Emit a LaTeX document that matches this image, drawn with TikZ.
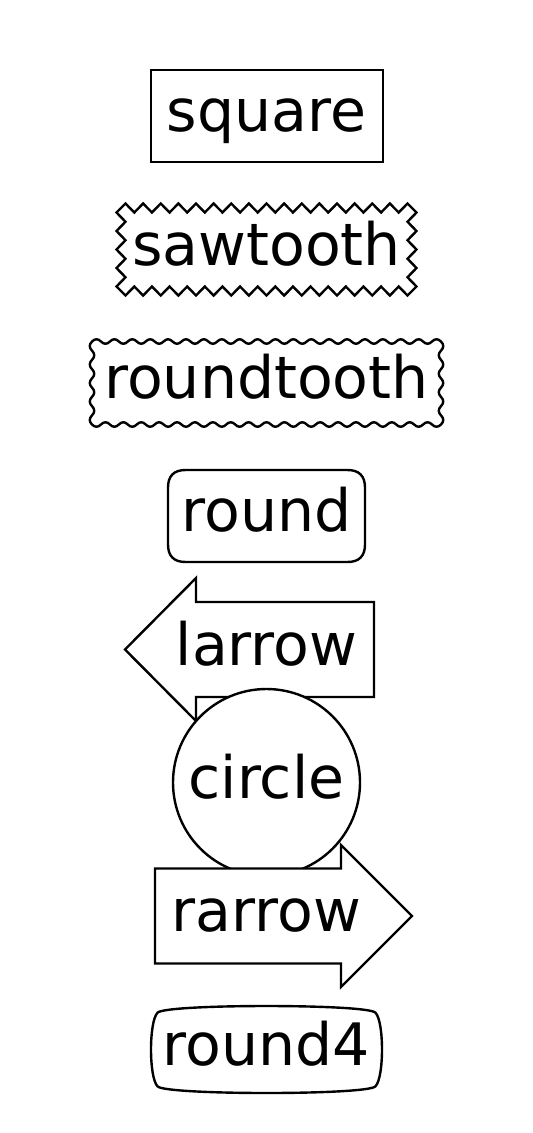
\documentclass[tikz,border=0pt]{standalone}
\usepackage{fontspec}
\setmainfont{DejaVu Sans}
\def\hh{4.5}
\tikzset{
  box/.style={draw=black, line width=2.4pt, fill=white, line join=miter},
  lbl/.style={inner sep=0pt, anchor=base, font=\fontsize{58.5}{70}\selectfont},
  sawedge/.style n args={6}{insert path={
     \foreach \k in {0,...,#5}{ -- ({#1+(\hh+\k*#6)*(#3)+\hh*cos(90*\k)*(#4)},{#2+(\hh+\k*#6)*(#4)-\hh*cos(90*\k)*(#3)}) }
  }},
  rtedge/.style n args={7}{insert path={
     .. controls ({#1+(2*\hh/3)*(#3)+(2*\hh/3)*(#4)},{#2+(2*\hh/3)*(#4)-(2*\hh/3)*(#3)})
        and ({#1+(\hh+#6/3)*(#3)+(2*\hh/3)*(#4)},{#2+(\hh+#6/3)*(#4)-(2*\hh/3)*(#3)})
        .. ({#1+(\hh+#6)*(#3)},{#2+(\hh+#6)*(#4)})
     \foreach \j in {1,...,#7}{
        .. controls ({#1+(\hh+(2*\j-1)*#6+2*#6/3)*(#3)+cos(180*\j)*(2*\hh/3)*(#4)},{#2+(\hh+(2*\j-1)*#6+2*#6/3)*(#4)-cos(180*\j)*(2*\hh/3)*(#3)})
        and ({#1+(\hh+(2*\j+1)*#6-2*#6/3)*(#3)+cos(180*\j)*(2*\hh/3)*(#4)},{#2+(\hh+(2*\j+1)*#6-2*#6/3)*(#4)-cos(180*\j)*(2*\hh/3)*(#3)})
        .. ({#1+(\hh+(2*\j+1)*#6)*(#3)},{#2+(\hh+(2*\j+1)*#6)*(#4)})
     }
     .. controls ({#1+(\hh+2*#5*#6-#6/3)*(#3)+(2*\hh/3)*(#4)},{#2+(\hh+2*#5*#6-#6/3)*(#4)-(2*\hh/3)*(#3)})
        and ({#1+(2*\hh+2*#5*#6-2*\hh/3)*(#3)+(2*\hh/3)*(#4)},{#2+(2*\hh+2*#5*#6-2*\hh/3)*(#4)-(2*\hh/3)*(#3)})
        .. ({#1+(2*\hh+2*#5*#6)*(#3)},{#2+(2*\hh+2*#5*#6)*(#4)})
  }},
}
\begin{document}
\begin{tikzpicture}[x=1pt,y=-1pt]
\useasboundingbox (0,0) rectangle (533,1133);
% square
\draw[box] (151,70) rectangle (383,162);
\node[lbl] (t1) at (266.5,131.5) {square};
% sawtooth
\draw[box] (121,208) [sawedge={121}{208}{1}{0}{64}{4.40625}] -- (412,208)
  [sawedge={412}{208}{0}{1}{16}{4.625}] -- (412,291)
  [sawedge={412}{291}{-1}{0}{64}{4.40625}] -- (121,291)
  [sawedge={121}{291}{0}{-1}{16}{4.625}] -- cycle;
\node[lbl] (t2) at (266.5,265) {sawtooth};
% roundtooth
\draw[box] (92,341.5) [rtedge={92}{341.5}{1}{0}{38}{4.473684}{37}]
  [rtedge={441}{341.5}{0}{1}{8}{4.625}{7}]
  [rtedge={441}{424.5}{-1}{0}{38}{4.473684}{37}]
  [rtedge={92}{424.5}{0}{-1}{8}{4.625}{7}] -- cycle;
\node[lbl] (t3) at (266.5,398.5) {roundtooth};
% round
\draw[box] (185.6,470) -- (347.4,470) .. controls (359.1,470) and (365,475.9) .. (365,487.6)
  -- (365,544.4) .. controls (365,556.1) and (359.1,562) .. (347.4,562)
  -- (185.6,562) .. controls (173.9,562) and (168,556.1) .. (168,544.4)
  -- (168,487.6) .. controls (168,475.9) and (173.9,470) .. cycle;
\node[lbl] (t4) at (266.5,531.5) {round};
% larrow
\draw[box] (374,602) -- (196,602) -- (196,578) -- (125,649.5) -- (196,721)
  -- (196,697) -- (374,697) -- cycle;
\node[lbl] (t5) at (266.5,665) {larrow};
% circle
\draw[box] (266.5,782.5) circle[radius=93.5pt];
\node[lbl] (t6) at (266.5,798) {circle};
% rarrow
\draw[box] (155,868.5) -- (341,868.5) -- (341,845) -- (412,916) -- (341,987)
  -- (341,963.5) -- (155,963.5) -- cycle;
\node[lbl] (t7) at (266.5,931.5) {rarrow};
% round4
\draw[box] (157.6,1012.6) .. controls (166.4,1003.8) and (366.6,1003.8) .. (375.4,1012.6)
  .. controls (384.2,1021.4) and (384.2,1077.6) .. (375.4,1086.4)
  .. controls (366.6,1095.2) and (166.4,1095.2) .. (157.6,1086.4)
  .. controls (148.8,1077.6) and (148.8,1021.4) .. cycle;
\node[lbl] (t8) at (266.5,1065) {round4};
\end{tikzpicture}
\end{document}
